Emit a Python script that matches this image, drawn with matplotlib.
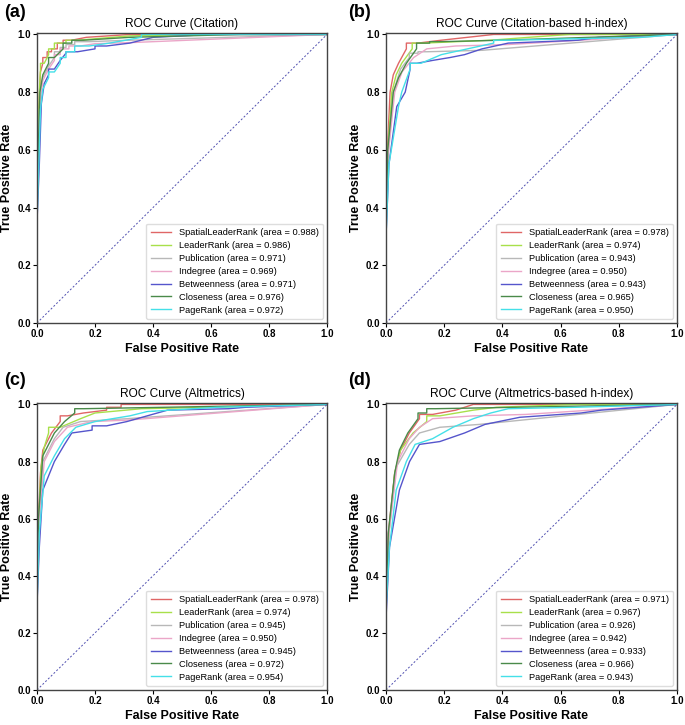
import matplotlib
matplotlib.use("Agg")
import matplotlib.pyplot as plt

plt.rcParams['font.family'] = ['Liberation Sans', 'DejaVu Sans']

series_names = ["SpatialLeaderRank", "LeaderRank", "Publication", "Indegree",
                "Betweenness", "Closeness", "PageRank"]
series_colors = ["#e06666", "#a8e04a", "#b8b8b8", "#eba6c8",
                 "#5555cc", "#4a8a4a", "#44e0e8"]

panel_titles = ["ROC Curve (Citation)", "ROC Curve (Citation-based h-index)",
                "ROC Curve (Altmetrics)", "ROC Curve (Altmetrics-based h-index)"]
panel_tags = ["(a)", "(b)", "(c)", "(d)"]

auc_a = [0.988, 0.986, 0.971, 0.969, 0.971, 0.976, 0.972]
auc_b = [0.978, 0.974, 0.943, 0.950, 0.943, 0.965, 0.950]
auc_c = [0.978, 0.974, 0.945, 0.950, 0.945, 0.972, 0.954]
auc_d = [0.971, 0.967, 0.926, 0.942, 0.933, 0.966, 0.943]

# ROC knots (fpr, tpr)
a_slr = [(0, 0), (0, 0.4), (0.004, 0.6), (0.008, 0.78), (0.012, 0.87), (0.02, 0.9), (0.035, 0.92), (0.05, 0.94),
         (0.07, 0.95), (0.09, 0.97), (0.12, 0.98), (0.17, 0.99), (0.32, 1.0), (1, 1)]
a_lr = [(0, 0), (0, 0.4), (0.004, 0.62), (0.008, 0.8), (0.012, 0.88), (0.025, 0.9), (0.04, 0.93), (0.06, 0.95),
        (0.1, 0.97), (0.14, 0.98), (0.2, 0.985), (0.32, 0.995), (0.55, 1.0), (1, 1)]
a_pub = [(0, 0), (0, 0.4), (0.005, 0.6), (0.01, 0.78), (0.02, 0.85), (0.04, 0.89), (0.06, 0.92), (0.08, 0.94),
         (0.1, 0.955), (0.13, 0.965), (0.18, 0.975), (0.32, 0.98), (1, 1)]
a_ind = [(0, 0), (0, 0.4), (0.005, 0.6), (0.012, 0.78), (0.02, 0.84), (0.04, 0.88), (0.06, 0.91), (0.08, 0.93),
         (0.11, 0.95), (0.15, 0.96), (0.2, 0.968), (0.33, 0.972), (1, 1)]
a_bet = [(0, 0), (0, 0.35), (0.008, 0.55), (0.015, 0.76), (0.025, 0.83), (0.04, 0.86), (0.06, 0.88), (0.08, 0.91),
         (0.1, 0.935), (0.14, 0.94), (0.2, 0.95), (0.24, 0.96), (0.32, 0.97), (0.4, 0.99), (0.6, 1.0), (1, 1)]
a_clo = [(0, 0), (0, 0.4), (0.005, 0.62), (0.01, 0.8), (0.02, 0.86), (0.04, 0.9), (0.06, 0.92), (0.09, 0.95),
         (0.12, 0.97), (0.16, 0.98), (0.32, 0.99), (0.7, 1.0), (1, 1)]
a_pr = [(0, 0), (0, 0.35), (0.006, 0.55), (0.012, 0.74), (0.02, 0.81), (0.04, 0.85), (0.06, 0.87), (0.08, 0.9),
        (0.1, 0.92), (0.13, 0.94), (0.18, 0.96), (0.25, 0.97), (0.36, 0.99), (0.4, 1.0), (1, 1)]

b_slr = [(0, 0), (0, 0.35), (0.005, 0.6), (0.014, 0.8), (0.025, 0.86), (0.043, 0.9), (0.07, 0.95), (0.11, 0.97),
         (0.19, 0.98), (0.28, 0.99), (0.37, 1.0), (1, 1)]
b_lr = [(0, 0), (0, 0.35), (0.006, 0.6), (0.02, 0.8), (0.035, 0.86), (0.054, 0.9), (0.09, 0.95), (0.13, 0.97),
        (0.36, 0.98), (0.49, 0.99), (0.63, 1.0), (1, 1)]
b_pub = [(0, 0), (0, 0.35), (0.007, 0.58), (0.025, 0.8), (0.05, 0.88), (0.08, 0.92), (0.11, 0.935), (0.14, 0.94),
         (0.33, 0.945), (1, 1)]
b_ind = [(0, 0), (0, 0.35), (0.007, 0.58), (0.03, 0.8), (0.055, 0.87), (0.095, 0.92), (0.14, 0.95), (0.24, 0.96),
         (0.42, 0.965), (1, 1)]
b_bet = [(0, 0), (0, 0.3), (0.01, 0.55), (0.037, 0.75), (0.066, 0.8), (0.083, 0.88), (0.106, 0.9), (0.16, 0.91),
         (0.22, 0.92), (0.27, 0.93), (0.33, 0.95), (0.42, 0.97), (0.66, 0.98), (0.73, 0.99), (1, 1)]
b_clo = [(0, 0), (0, 0.35), (0.006, 0.6), (0.025, 0.8), (0.043, 0.85), (0.07, 0.9), (0.105, 0.95), (0.15, 0.97),
         (0.19, 0.975), (0.4, 0.98), (1, 1)]
b_pr = [(0, 0), (0, 0.3), (0.01, 0.55), (0.043, 0.75), (0.054, 0.8), (0.083, 0.88), (0.12, 0.9), (0.19, 0.93),
        (0.28, 0.95), (0.37, 0.97), (0.42, 0.98), (0.88, 0.99), (1, 1)]

c_slr = [(0, 0), (0, 0.35), (0.005, 0.6), (0.012, 0.76), (0.02, 0.84), (0.05, 0.9), (0.08, 0.94), (0.105, 0.96),
         (0.16, 0.97), (0.24, 0.98), (0.29, 0.99), (0.33, 1.0), (1, 1)]
c_lr = [(0, 0), (0, 0.35), (0.006, 0.6), (0.014, 0.78), (0.025, 0.85), (0.04, 0.9), (0.08, 0.92), (0.15, 0.95),
        (0.2, 0.97), (0.36, 0.985), (0.61, 0.99), (1, 1)]
c_pub = [(0, 0), (0, 0.35), (0.006, 0.58), (0.02, 0.8), (0.06, 0.88), (0.09, 0.92), (0.15, 0.94), (0.31, 0.95),
         (1, 1)]
c_ind = [(0, 0), (0, 0.35), (0.006, 0.58), (0.025, 0.8), (0.06, 0.87), (0.105, 0.92), (0.19, 0.94), (0.31, 0.945),
         (1, 1)]
c_bet = [(0, 0), (0, 0.3), (0.008, 0.5), (0.02, 0.7), (0.06, 0.8), (0.095, 0.86), (0.12, 0.9), (0.19, 0.91),
         (0.24, 0.925), (0.31, 0.94), (0.38, 0.96), (0.45, 0.98), (0.66, 0.985), (0.72, 0.99), (1, 1)]
c_clo = [(0, 0), (0, 0.35), (0.005, 0.6), (0.02, 0.82), (0.06, 0.9), (0.095, 0.94), (0.13, 0.97), (0.16, 0.985),
         (1, 1)]
c_pr = [(0, 0), (0, 0.3), (0.008, 0.55), (0.025, 0.75), (0.06, 0.82), (0.095, 0.88), (0.134, 0.92), (0.2, 0.94),
        (0.32, 0.96), (0.38, 0.975), (0.62, 0.99), (1, 1)]

d_slr = [(0, 0), (0, 0.3), (0.008, 0.55), (0.03, 0.76), (0.05, 0.84), (0.08, 0.9), (0.115, 0.95), (0.16, 0.965),
         (0.24, 0.98), (0.3, 1.0), (1, 1)]
d_lr = [(0, 0), (0, 0.3), (0.01, 0.55), (0.03, 0.76), (0.05, 0.84), (0.093, 0.9), (0.14, 0.94), (0.185, 0.96),
        (0.3, 0.98), (0.38, 0.99), (0.65, 1.0), (1, 1)]
d_pub = [(0, 0), (0, 0.3), (0.01, 0.55), (0.035, 0.78), (0.08, 0.86), (0.115, 0.9), (0.185, 0.92), (0.32, 0.93),
         (1, 1)]
d_ind = [(0, 0), (0, 0.3), (0.01, 0.55), (0.04, 0.8), (0.08, 0.88), (0.115, 0.92), (0.16, 0.95), (0.3, 0.96),
         (0.48, 0.965), (1, 1)]
d_bet = [(0, 0), (0, 0.25), (0.012, 0.5), (0.046, 0.7), (0.081, 0.8), (0.115, 0.86), (0.185, 0.87), (0.27, 0.9),
         (0.34, 0.93), (0.46, 0.955), (0.67, 0.97), (0.74, 0.98), (1, 1)]
d_clo = [(0, 0), (0, 0.3), (0.008, 0.55), (0.03, 0.76), (0.046, 0.84), (0.075, 0.9), (0.11, 0.95), (0.14, 0.97),
         (0.17, 0.985), (1, 1)]
d_pr = [(0, 0), (0, 0.28), (0.012, 0.5), (0.035, 0.7), (0.07, 0.8), (0.1, 0.86), (0.16, 0.88), (0.23, 0.92),
        (0.3, 0.95), (0.36, 0.97), (0.42, 0.985), (0.65, 0.99), (1, 1)]

panels = [
    ([a_slr, a_lr, a_pub, a_ind, a_bet, a_clo, a_pr], auc_a),
    ([b_slr, b_lr, b_pub, b_ind, b_bet, b_clo, b_pr], auc_b),
    ([c_slr, c_lr, c_pub, c_ind, c_bet, c_clo, c_pr], auc_c),
    ([d_slr, d_lr, d_pub, d_ind, d_bet, d_clo, d_pr], auc_d),
]

ticks = [0.0, 0.2, 0.4, 0.6, 0.8, 1.0]
tick_labels = ["0.0", "0.2", "0.4", "0.6", "0.8", "1.0"]


def stairs(knots):
    # small up-then-right corners for small steps, straight lines elsewhere
    xs, ys = [knots[0][0]], [knots[0][1]]
    for (x0, y0), (x1, y1) in zip(knots[:-1], knots[1:]):
        if 0 < x1 - x0 < 0.05 and 0 < abs(y1 - y0) <= 0.025 and y0 > 0.7:
            xs.append(x0)
            ys.append(y1)
        xs.append(x1)
        ys.append(y1)
    return xs, ys


fig = plt.figure(figsize=(6.85, 7.25), dpi=100)
W, H = 685.0, 725.0
boxes = [(37, 33, 327, 323), (386, 33, 677, 323), (37, 403, 327, 690), (386, 403, 677, 690)]
tag_pos = [(4, 4), (348, 4), (4, 372), (348, 372)]

for i, ((curves, aucs), box) in enumerate(zip(panels, boxes)):
    x0, y0, x1, y1 = box
    ax = fig.add_axes([x0 / W, 1 - y1 / H, (x1 - x0) / W, (y1 - y0) / H])
    for knots, name, col, auc in zip(curves, series_names, series_colors, aucs):
        xs, ys = stairs(knots)
        ax.plot(xs, ys, color=col, lw=1.0, label=f"{name} (area = {auc:.3f})")
    ax.plot([0, 1], [0, 1], color="#5050b0", lw=0.7, ls=(0, (2, 2)))
    ax.set_xlim(0, 1)
    ax.set_ylim(0, 1.005)
    ax.set_xticks(ticks)
    ax.set_xticklabels(tick_labels)
    ax.set_yticks(ticks)
    ax.set_yticklabels(tick_labels)
    ax.tick_params(labelsize=7, length=3, width=0.8, pad=1.5)
    for lbl in ax.get_xticklabels() + ax.get_yticklabels():
        lbl.set_fontweight("bold")
    for sp in ax.spines.values():
        sp.set_color("#444444")
        sp.set_linewidth(1.0)
    ax.set_xlabel("False Positive Rate", fontsize=9, fontweight="bold", labelpad=3)
    ax.set_ylabel("True Positive Rate", fontsize=9, fontweight="bold", labelpad=3)
    ax.set_title(panel_titles[i], fontsize=8.6, pad=4)
    ax.legend(loc="lower right", fontsize=6.7, frameon=True, borderpad=0.5,
              handlelength=2.2, labelspacing=0.42, framealpha=1, edgecolor="#dddddd",
              borderaxespad=0.4)
    tx, ty = tag_pos[i]
    fig.text(tx / W, 1 - ty / H, panel_tags[i], fontsize=13, fontweight="bold", va="top", ha="left")

fig.savefig("out.png", dpi=100)
